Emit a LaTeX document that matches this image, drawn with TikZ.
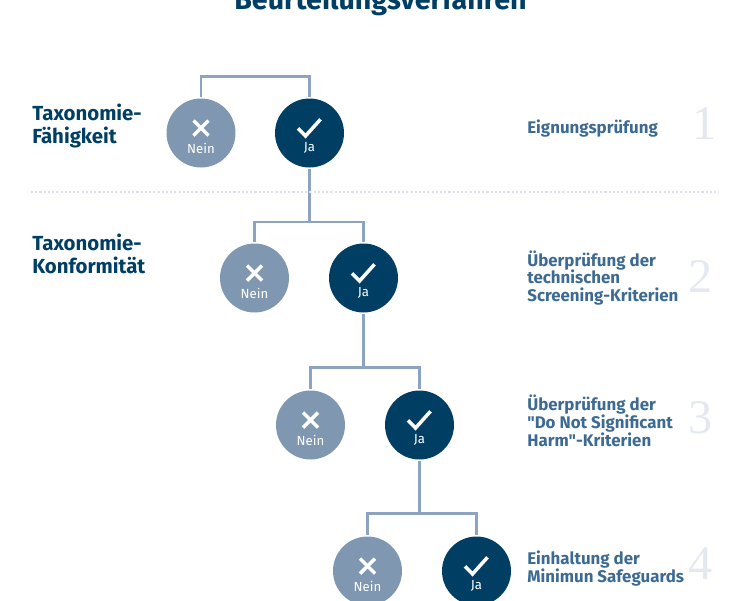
\documentclass[tikz,border=0pt]{standalone}
\usepackage{fontspec}
\setmainfont{Fira Sans}[Ligatures=TeXOff]
\newfontfamily\zifferfont{Liberation Serif}
\definecolor{dunkel}{HTML}{003F63}
\definecolor{grau}{HTML}{8097B1}
\definecolor{linie}{HTML}{8CA3C1}
\definecolor{schrift}{HTML}{3C6A92}
\definecolor{ziffer}{HTML}{E4E8F0}
\definecolor{punkte}{HTML}{DDE0EC}
\tikzset{
  nein/.style={circle,fill=grau,minimum size=1.38cm,inner sep=0pt,outer sep=1pt},
  ja/.style={circle,fill=dunkel,minimum size=1.38cm,inner sep=0pt,outer sep=1pt},
  wort/.style={text=white,font=\fontsize{7.5}{8}\selectfont,inner sep=0pt},
  marke/.style={draw=white,line width=2pt},
  link/.style={draw=linie,line width=1.5pt},
  links/.style={text=dunkel,font=\fontsize{11.6}{13}\selectfont\bfseries,align=left,anchor=west,inner sep=0pt},
  rechts/.style={text=schrift,font=\fontsize{9.6}{10.2}\selectfont\bfseries,align=left,anchor=west,inner sep=0pt},
  nummer/.style={text=ziffer,font=\fontsize{27.5}{27.5}\selectfont\zifferfont,inner sep=0pt},
}
\begin{document}
\begin{tikzpicture}[x=0.02cm,y=-0.02cm]

\useasboundingbox (0,0) rectangle (750,600);
\clip (0,0) rectangle (750,600);

\node [text=dunkel,font=\fontsize{16.3}{18}\selectfont\bfseries,anchor=base,inner sep=0pt] (titel) at (380.5,9) {Beurteilungsverfahren};

\foreach \r/\x/\y in {1/201/133,2/254.5/278,3/310.5/425,4/367.5/571} {
    \node [nein] (nein\r) at (\x,\y) {};
    \node [wort] (neinwort\r) at (\x,\y+15) {Nein};
    \draw [marke] (\x-7.5,\y-12.5) -- (\x+7.5,\y+2.5);
    \draw [marke] (\x-7.5,\y+2.5) -- (\x+7.5,\y-12.5);
}

\foreach \r/\x/\y in {1/309.5/133,2/363.5/278,3/419.5/425,4/476.5/571} {
    \node [ja] (ja\r) at (\x,\y) {};
    \node [wort] (jawort\r) at (\x,\y+15) {Ja};
    \draw [marke] (\x-11.5,\y-4.7) -- (\x-4,\y+3) -- (\x+11,\y-13.7);
}

\coordinate (k1) at (255,76.5);
\coordinate (k2) at (309.5,222);
\coordinate (k3) at (363.5,367.5);
\coordinate (k4) at (419.5,513.5);

\draw [link] (nein1) |- (k1) -| (ja1);
\draw [link] (nein2) |- (k2) -| (ja2);
\draw [link] (nein3) |- (k3) -| (ja3);
\draw [link] (nein4) |- (k4) -| (ja4);

\draw [link] (ja1) -- (k2);
\draw [link] (ja2) -- (k3);
\draw [link] (ja3) -- (k4);

\coordinate (p1) at (31,192);
\coordinate (p2) at (719,192);
\draw [punkte,line width=1.1pt,dash pattern=on 1.2pt off 1.2pt] (p1) -- (p2);

\node [links] (kat1) at (32,126) {Taxonomie-\\Fähigkeit};
\node [links] (kat2) at (32,254) {Taxonomie-\\Konformität};

\node [rechts] (text1) at (527,129) {Eignungsprüfung};
\node [rechts] (text2) at (527,278) {Überprüfung der\\technischen\\Screening-Kriterien};
\node [rechts] (text3) at (527,420.5) {Überprüfung der\\"Do Not Significant\\Harm"-Kriterien};
\node [rechts] (text4) at (527,568.5) {Einhaltung der\\Minimun Safeguards};

\node [nummer] (zahl1) at (704.5,123.5) {1};
\node [nummer] (zahl2) at (701,276) {2};
\node [nummer] (zahl3) at (701,418) {3};
\node [nummer] (zahl4) at (701,564) {4};

\end{tikzpicture}
\end{document}
